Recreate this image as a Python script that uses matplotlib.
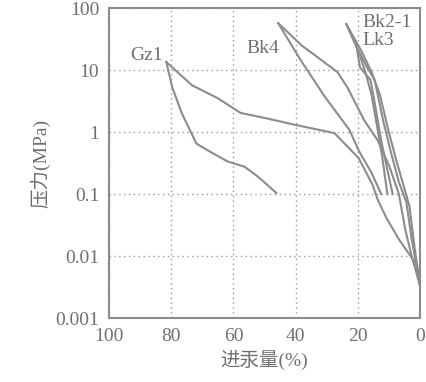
import matplotlib
matplotlib.use("Agg")
import matplotlib.pyplot as plt

# mercury intrusion (进汞) and withdrawal curves
# x = 进汞量 (%), y = 压力 (MPa)
gz1_in_x = [0, 1.0, 6.8, 10.8, 13.6, 15.3, 19.7, 27.5, 40, 49.8, 57.7, 65, 73.4, 81.6]
gz1_in_y = [0.0033, 0.0071, 0.0186, 0.041, 0.081, 0.142, 0.377, 0.96, 1.30, 1.68, 2.03, 3.5, 5.7, 13.5]
gz1_out_x = [81.6, 79.7, 76.6, 71.9, 68.1, 61.9, 56.4, 52.1, 46.2]
gz1_out_y = [13.5, 5.3, 2.0, 0.65, 0.50, 0.335, 0.275, 0.19, 0.104]

bk4_in_x = [0, 2.7, 4.7, 6.8, 9.8, 13.6, 18.0, 23.4, 26.6, 38.1, 45.6]
bk4_in_y = [0.0033, 0.01, 0.026, 0.1, 0.275, 0.73, 1.56, 5.3, 9.3, 25, 57]
bk4_out_x = [45.6, 38.4, 30.6, 22.7, 19.7, 15.6, 12.5]
bk4_out_y = [57, 14.5, 3.7, 1.08, 0.5, 0.22, 0.1]

bk21_in_x = [0, 2.7, 4.4, 6.8, 9.5, 11.9, 14.6, 17.0, 20.3, 23.7]
bk21_in_y = [0.0033, 0.019, 0.074, 0.155, 0.5, 1.56, 6.9, 11, 23, 55]
bk21_out_x = [23.7, 20.6, 19.3, 15.9, 14.2, 12.5, 10.5, 8.8]
bk21_out_y = [55, 27, 11, 6.9, 2.3, 0.73, 0.245, 0.1]

lk3_in_x = [0, 1.7, 3.4, 5.1, 7.5, 10.2, 12.9, 15.6, 19.0, 22.8]
lk3_in_y = [0.0033, 0.013, 0.063, 0.126, 0.33, 1.07, 4.0, 9.3, 21, 45]
lk3_out_x = [22.8, 19.7, 17.6, 15.6, 13.9, 12.2, 10.5]
lk3_out_y = [45, 19.5, 9.3, 4.0, 1.3, 0.41, 0.1]

x_ticks = [100, 80, 60, 40, 20, 0]
y_ticks = [100, 10, 1, 0.1, 0.01, 0.001]
y_tick_labels = ["100", "10", "1", "0.1", "0.01", "0.001"]

plt.rcParams["font.family"] = ["Liberation Serif", "Noto Sans CJK SC"]

line_col = "#8c8c8c"
text_col = "#707070"

fig = plt.figure(figsize=(4.26, 3.82), dpi=100)
ax = fig.add_axes([0.256, 0.1675, 0.73, 0.8115])

curves = [
    (gz1_in_x, gz1_in_y), (gz1_out_x, gz1_out_y),
    (bk4_in_x, bk4_in_y), (bk4_out_x, bk4_out_y),
    (bk21_in_x, bk21_in_y), (bk21_out_x, bk21_out_y),
    (lk3_in_x, lk3_in_y), (lk3_out_x, lk3_out_y),
]
for xs, ys in curves:
    ax.plot(xs, ys, color=line_col, linewidth=1.5)

ax.set_yscale("log")
ax.set_xlim(100, 0)
ax.set_ylim(0.001, 100)
ax.set_xticks(x_ticks)
ax.set_xticklabels([str(v) for v in x_ticks])
ax.set_yticks(y_ticks)
ax.set_yticklabels(y_tick_labels)
ax.minorticks_off()
ax.tick_params(length=0, labelsize=14, labelcolor=text_col, pad=7)

# dotted grid inside the box
ax.grid(True, linestyle=(0, (1, 2.5)), color="#9a9a9a", linewidth=1.0)

for s in ax.spines.values():
    s.set_color(line_col)
    s.set_linewidth(1.5)

ax.set_xlabel("进汞量(%)", fontsize=14, color=text_col, labelpad=4)
ax.set_ylabel("压力(MPa)", fontsize=14, color=text_col, labelpad=4)

# curve names
ax.text(88, 17, "Gz1", fontsize=14, color=text_col, ha="center", va="center")
ax.text(50.5, 22.6, "Bk4", fontsize=14, color=text_col, ha="center", va="center")
ax.text(18.6, 59, "Bk2-1", fontsize=14, color=text_col, ha="left", va="center")
ax.text(18.6, 29.4, "Lk3", fontsize=14, color=text_col, ha="left", va="center")

fig.savefig("out.png", dpi=100)
